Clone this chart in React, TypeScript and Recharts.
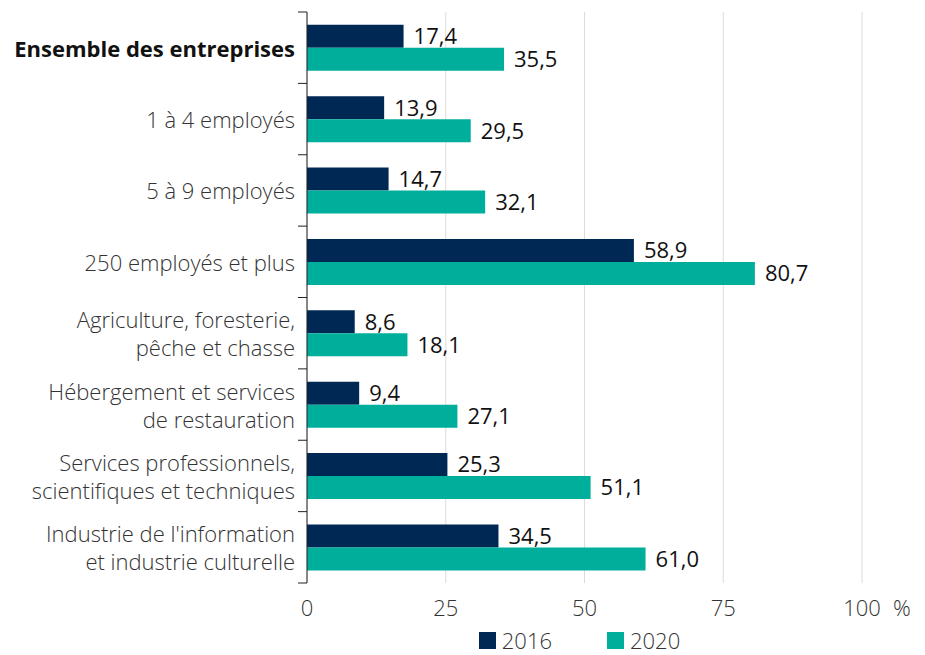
import React from 'react';
import { BarChart, Bar, XAxis, YAxis, CartesianGrid, Legend, LabelList } from 'recharts';

const categories = [
  'Ensemble des entreprises',
  '1 à 4 employés',
  '5 à 9 employés',
  '250 employés et plus',
  'Agriculture, foresterie,\npêche et chasse',
  'Hébergement et services\nde restauration',
  'Services professionnels,\nscientifiques et techniques',
  "Industrie de l'information\net industrie culturelle",
];
const values2016 = [17.4, 13.9, 14.7, 58.9, 8.6, 9.4, 25.3, 34.5];
const values2020 = [35.5, 29.5, 32.1, 80.7, 18.1, 27.1, 51.1, 61.0];
const xTicks = [0, 25, 50, 75, 100];

const NAVY = '#002855';
const TEAL = '#00ae9c';
const FONT = '"Open Sans", sans-serif';

const W = 925;
const H = 655;
const AXIS_X = 307;
const margin = { top: 12, right: 63, left: 0, bottom: 0 };
const plotTop = 12;
const plotBottom = 583;
const band = (plotBottom - plotTop) / categories.length;

const data = categories.map((name, i) => ({
  name,
  v2016: values2016[i],
  v2020: values2020[i],
}));

const fmt = (v: number) => v.toFixed(1).replace('.', ',');

const CategoryTick = (props: any) => {
  const { y, payload, index } = props;
  const lines = String(payload.value).split('\n');
  const lineH = 28;
  const start = y - ((lines.length - 1) * lineH) / 2;
  const tx = AXIS_X - 12;
  return (
    <g>
      <line x1={AXIS_X - 9} x2={AXIS_X} y1={y - band / 2} y2={y - band / 2} stroke="#222" strokeWidth={1} />
      {index === categories.length - 1 && (
        <line x1={AXIS_X - 9} x2={AXIS_X} y1={y + band / 2} y2={y + band / 2} stroke="#222" strokeWidth={1} />
      )}
      <text
        x={tx}
        y={start}
        textAnchor="end"
        dominantBaseline="central"
        fontFamily={FONT}
        fontSize={22}
        fontWeight={index === 0 ? 700 : 300}
        fill={index === 0 ? '#111' : '#333'}
      >
        {lines.map((l, i) => (
          <tspan key={i} x={tx} dy={i === 0 ? 0 : lineH}>
            {l}
          </tspan>
        ))}
      </text>
    </g>
  );
};

const ValueTick = (props: any) => {
  const { x, y, payload } = props;
  const style = { fill: '#333', fontSize: 22, fontWeight: 300, fontFamily: FONT };
  return (
    <g>
      <text x={x} y={y + 16} textAnchor="middle" dominantBaseline="central" {...style}>
        {payload.value}
      </text>
      {payload.value === 100 && (
        <text x={x + 31} y={y + 16} textAnchor="start" dominantBaseline="central" {...style}>
          %
        </text>
      )}
    </g>
  );
};

const LegendContent = () => {
  const items = [
    { label: '2016', color: NAVY },
    { label: '2020', color: TEAL },
  ];
  return (
    <div
      style={{
        display: 'flex',
        justifyContent: 'center',
        fontFamily: FONT,
        fontSize: 22,
        fontWeight: 300,
        lineHeight: '30px',
        color: '#333',
        paddingRight: 10,
      }}
    >
      {items.map((it, i) => (
        <div key={it.label} style={{ display: 'flex', alignItems: 'center', marginLeft: i === 0 ? 0 : 55 }}>
          <span style={{ display: 'inline-block', width: 17, height: 17, background: it.color, marginRight: 6 }} />
          <span>{it.label}</span>
        </div>
      ))}
    </div>
  );
};

const App: React.FC = () => {
  return (
    <div style={{ position: 'absolute', left: 0, top: 0, background: '#fff' }}>
      <BarChart
        width={W}
        height={H}
        data={data}
        layout="vertical"
        margin={margin}
        barCategoryGap="18%"
        barGap={0}
      >
        <CartesianGrid horizontal={false} stroke="#dcdcdc" />
        <XAxis
          type="number"
          domain={[0, 100]}
          ticks={xTicks}
          axisLine={false}
          tickLine={false}
          height={42}
          tick={<ValueTick />}
        />
        <YAxis
          type="category"
          dataKey="name"
          width={AXIS_X}
          axisLine={{ stroke: '#222' }}
          tickLine={false}
          tick={<CategoryTick />}
          interval={0}
        />
        <Legend
          verticalAlign="bottom"
          height={30}
          content={<LegendContent />}
          wrapperStyle={{ left: AXIS_X, width: W - AXIS_X - margin.right, top: 625, bottom: 'auto', height: 30 }}
        />
        <Bar dataKey="v2016" name="2016" fill={NAVY} isAnimationActive={false}>
          <LabelList
            dataKey="v2016"
            position="right"
            offset={10}
            formatter={(v: any) => fmt(Number(v))}
            style={{ fill: '#111', fontSize: 22, fontFamily: FONT }}
          />
        </Bar>
        <Bar dataKey="v2020" name="2020" fill={TEAL} isAnimationActive={false}>
          <LabelList
            dataKey="v2020"
            position="right"
            offset={10}
            formatter={(v: any) => fmt(Number(v))}
            style={{ fill: '#111', fontSize: 22, fontFamily: FONT }}
          />
        </Bar>
      </BarChart>
    </div>
  );
};

export default App;
